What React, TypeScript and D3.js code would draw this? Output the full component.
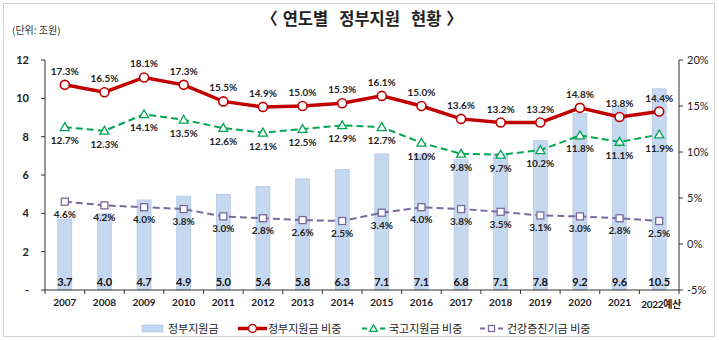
import React from "react";
import * as d3 from "d3";

const years = ["2007","2008","2009","2010","2011","2012","2013","2014","2015","2016","2017","2018","2019","2020","2021","2022예산"];
const govSupport = [3.7,4.0,4.7,4.9,5.0,5.4,5.8,6.3,7.1,7.1,6.8,7.1,7.8,9.2,9.6,10.5];
const govShare = [17.3,16.5,18.1,17.3,15.5,14.9,15.0,15.3,16.1,15.0,13.6,13.2,13.2,14.8,13.8,14.4];
const treasuryShare = [12.7,12.3,14.1,13.5,12.6,12.1,12.5,12.9,12.7,11.0,9.8,9.7,10.2,11.8,11.1,11.9];
const fundShare = [4.6,4.2,4.0,3.8,3.0,2.8,2.6,2.5,3.4,4.0,3.8,3.5,3.1,3.0,2.8,2.5];
const leftTicks = [0,2,4,6,8,10,12];
const rightTicks = [-5,0,5,10,15,20];
const legendLabels = ["정부지원금","정부지원금 비중","국고지원금 비중","건강증진기금 비중"];
const titleWords = ["〈", "연도별", "정부지원", "현황", "〉"];

const W = 719, H = 340;
const left = 45, right = 679, top = 60, bottom = 290;
const FONT = "Lato, 'Noto Sans CJK KR', sans-serif";
const KFONT = "'Noto Sans CJK KR', sans-serif";

const RED = "#c00000";
const GREEN = "#00a651";
const PURPLE = "#7a6a9c";
const BAR = "#c6d8ef";
const BAR_EDGE = "#a9c2e2";

export default function App() {
  const x = d3.scaleBand<string>().domain(years).range([left, right]).paddingInner(0);
  const yL = d3.scaleLinear().domain([0, 12]).range([bottom, top]);
  const yR = d3.scaleLinear().domain([-5, 20]).range([bottom, top]);
  const cx = (i: number) => (x(years[i]) as number) + x.bandwidth() / 2;
  const barW = 14;

  const line = (vals: number[]) =>
    d3.line<number>().x((_, i) => cx(i)).y((v) => yR(v))(vals) as string;

  const tri = (px: number, py: number, r = 4.5) =>
    `M${px},${py - r}L${px + r},${py + r * 0.75}L${px - r},${py + r * 0.75}Z`;

  // gaps between title words: narrow after the brackets, wide between words
  const titleGaps = [0, 5, 11, 11, 5];

  return (
    <svg width={W} height={H} style={{ position: "absolute", left: 0, top: 0, background: "#fff" }}>
      <rect x={3.5} y={3.5} width={711} height={333} fill="#fff" stroke="#d4d4d4" />
      <text x={362} y={25} textAnchor="middle" fontFamily={KFONT} fontWeight={700} fontSize={16.5} fill="#222">
        {titleWords.map((w, i) => (
          <tspan key={"tw" + i} dx={titleGaps[i]}>{w}</tspan>
        ))}
      </text>
      <text x={12} y={34} fontFamily={KFONT} fontSize={10} fill="#333">(단위: 조원)</text>

      {/* bars */}
      {govSupport.map((v, i) => (
        <rect key={"b" + i} x={cx(i) - barW / 2} y={yL(v)} width={barW} height={yL(0) - yL(v)}
          fill={BAR} stroke={BAR_EDGE} strokeWidth={0.6} />
      ))}
      {govSupport.map((v, i) => (
        <text key={"bl" + i} x={cx(i)} y={286} textAnchor="middle" fontFamily={FONT} fontWeight={700} fontSize={11} fill="#111">
          {v.toFixed(1)}
        </text>
      ))}

      {/* axes */}
      <line x1={left} x2={left} y1={top} y2={bottom} stroke="#333" />
      <line x1={right} x2={right} y1={top} y2={bottom} stroke="#333" />
      <line x1={left} x2={right} y1={bottom} y2={bottom} stroke="#333" />
      {leftTicks.map((t) => (
        <g key={"lt" + t}>
          <line x1={left - 4} x2={left} y1={yL(t)} y2={yL(t)} stroke="#333" />
          <text x={left - 16} y={yL(t) + 4} textAnchor="end" fontFamily={FONT} fontWeight={700} fontSize={11} fill="#222">
            {t === 0 ? "-" : t}
          </text>
        </g>
      ))}
      {rightTicks.map((t) => (
        <g key={"rt" + t}>
          <line x1={right} x2={right + 4} y1={yR(t)} y2={yR(t)} stroke="#333" />
          <text x={right + 8} y={yR(t) + 4} fontFamily={FONT} fontSize={11} fill="#222">{t}%</text>
        </g>
      ))}
      {years.map((yr, i) => (
        <line key={"xt" + i} x1={x(yr) as number} x2={x(yr) as number} y1={bottom} y2={bottom + 4} stroke="#333" />
      ))}
      <line x1={right} x2={right} y1={bottom} y2={bottom + 4} stroke="#333" />
      {years.map((yr, i) => (
        <text key={"xl" + i} x={cx(i) + (i === 15 ? 2 : 0)} y={i === 15 ? 308 : 306} textAnchor="middle"
          fontFamily={FONT} fontWeight={700} fontSize={10} fill="#222" letterSpacing={i === 15 ? -0.3 : 0}>
          {yr}
        </text>
      ))}

      {/* fund share line */}
      <path d={line(fundShare)} fill="none" stroke={PURPLE} strokeWidth={2} strokeDasharray="7,4" />
      {fundShare.map((v, i) => (
        <g key={"f" + i}>
          <rect x={cx(i) - 3.5} y={yR(v) - 3.5} width={7} height={7} fill="#fff" stroke={PURPLE} strokeWidth={1.3} />
          <text x={cx(i)} y={yR(v) + 16} textAnchor="middle" fontFamily={FONT} fontWeight={700} fontSize={10} fill="#222">{v.toFixed(1)}%</text>
        </g>
      ))}

      {/* treasury share line */}
      <path d={line(treasuryShare)} fill="none" stroke={GREEN} strokeWidth={2} strokeDasharray="7,4" />
      {treasuryShare.map((v, i) => (
        <g key={"t" + i}>
          <path d={tri(cx(i), yR(v))} fill="#fff" stroke={GREEN} strokeWidth={1.3} />
          <text x={cx(i)} y={yR(v) + 17} textAnchor="middle" fontFamily={FONT} fontWeight={700} fontSize={10} fill="#222">{v.toFixed(1)}%</text>
        </g>
      ))}

      {/* government share line */}
      <path d={line(govShare)} fill="none" stroke={RED} strokeWidth={3.5} />
      {govShare.map((v, i) => (
        <g key={"g" + i}>
          <circle cx={cx(i)} cy={yR(v)} r={4.5} fill="#fff" stroke={RED} strokeWidth={1.6} />
          <text x={cx(i)} y={yR(v) - 10} textAnchor="middle" fontFamily={FONT} fontWeight={700} fontSize={10} fill="#222">{v.toFixed(1)}%</text>
        </g>
      ))}

      {/* legend */}
      <g fontFamily={KFONT} fontSize={11} fill="#222">
        <rect x={142} y={325} width={21} height={7} fill={BAR} stroke={BAR_EDGE} strokeWidth={0.6} />
        <text x={168} y={333}>{legendLabels[0]}</text>
        <line x1={238} x2={267} y1={328.5} y2={328.5} stroke={RED} strokeWidth={3.5} />
        <circle cx={252.5} cy={328.5} r={4} fill="#fff" stroke={RED} strokeWidth={1.5} />
        <text x={268} y={333}>{legendLabels[1]}</text>
        <line x1={362} x2={385} y1={328.5} y2={328.5} stroke={GREEN} strokeWidth={2} strokeDasharray="5,4" />
        <path d={tri(373.5, 328.5, 3.8)} fill="#fff" stroke={GREEN} strokeWidth={1.3} />
        <text x={389} y={333}>{legendLabels[2]}</text>
        <line x1={480} x2={503} y1={328.5} y2={328.5} stroke={PURPLE} strokeWidth={2} strokeDasharray="5,4" />
        <rect x={488.5} y={325.5} width={6} height={6} fill="#fff" stroke={PURPLE} strokeWidth={1.3} />
        <text x={507} y={333}>{legendLabels[3]}</text>
      </g>
    </svg>
  );
}
